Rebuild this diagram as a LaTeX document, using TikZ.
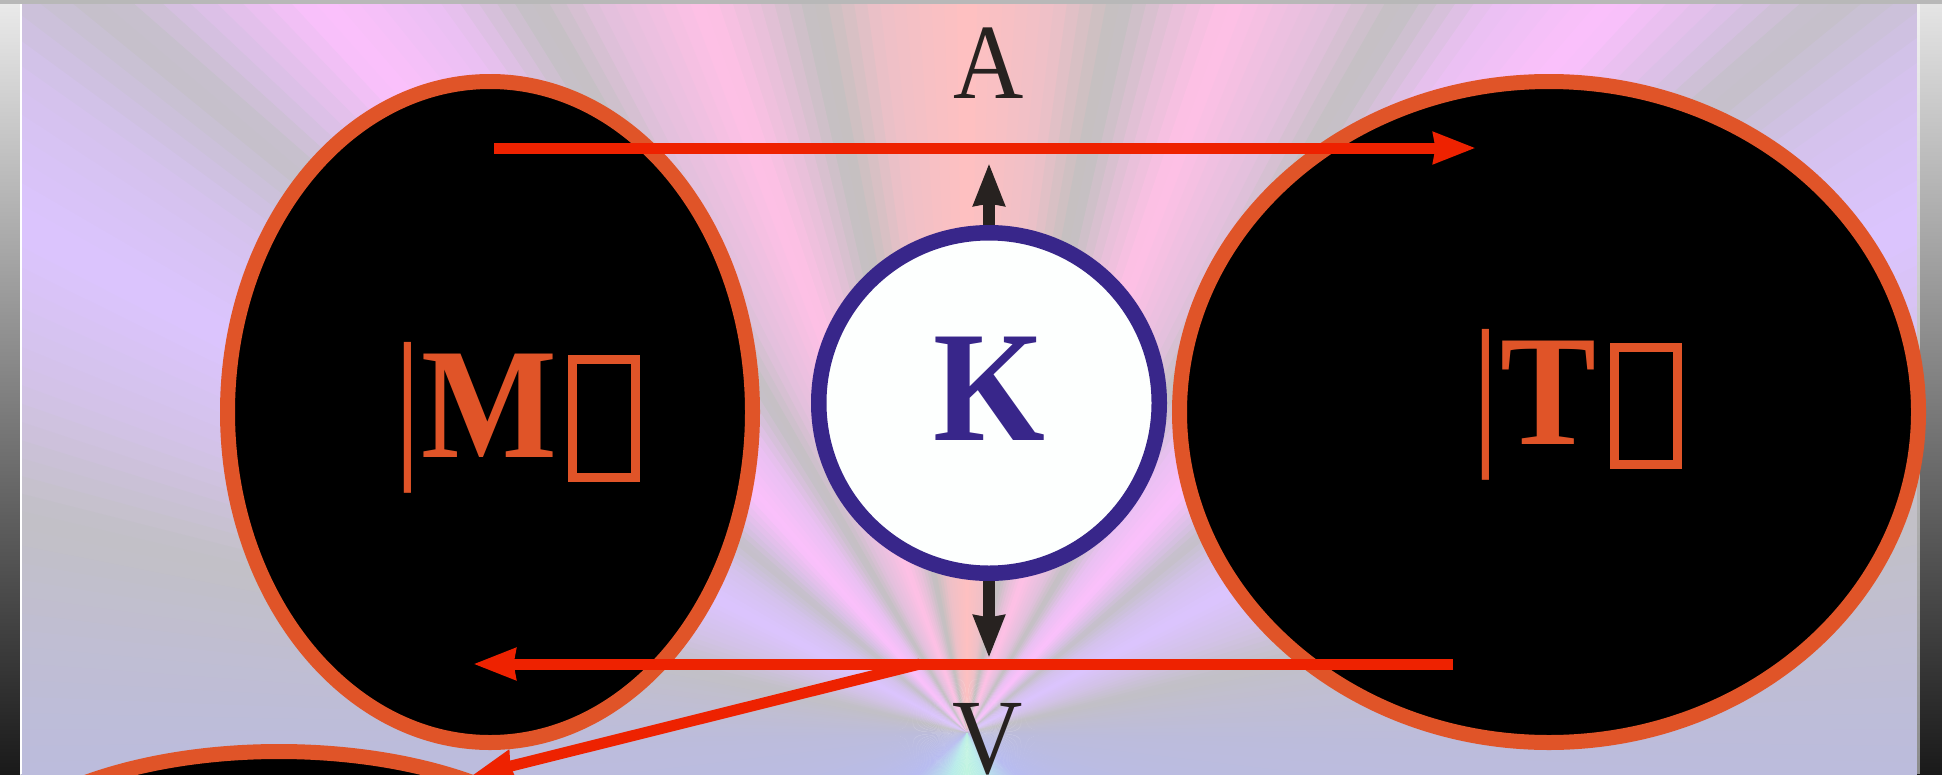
\documentclass[tikz,border=0pt]{standalone}
\usepackage{fontspec}
\setmainfont{Liberation Serif}[FakeStretch=0.91]
\usetikzlibrary{arrows.meta,shapes.geometric}
\definecolor{orng}{HTML}{E05428}
\definecolor{redar}{HTML}{EE2200}
\definecolor{navy}{HTML}{38268A}
\definecolor{darkar}{HTML}{272220}
\definecolor{kfill}{HTML}{FDFFFE}
% ray colour stops
\definecolor{s00}{HTML}{FFC0C0}
\definecolor{s07}{HTML}{EEC0C8}
\definecolor{s12}{HTML}{C2C0C0}
\definecolor{s16}{HTML}{E6C0D8}
\definecolor{s20}{HTML}{FFC0E6}
\definecolor{s27}{HTML}{E2C0DC}
\definecolor{s31}{HTML}{C2C0C2}
\definecolor{s36}{HTML}{EAC0F2}
\definecolor{s42}{HTML}{FCC0FC}
\definecolor{s47}{HTML}{D8C0E4}
\definecolor{s50}{HTML}{C4C0C8}
\definecolor{s55}{HTML}{D4C2EC}
\definecolor{s62}{HTML}{DCC4FF}
\definecolor{s70}{HTML}{D2C2E6}
\definecolor{s77}{HTML}{C2C0C6}
\definecolor{s84}{HTML}{C0BED2}
\definecolor{s92}{HTML}{BCBCDC}
\definecolor{s130}{HTML}{B8BCF0}
\definecolor{s160}{HTML}{B8ECEA}
\definecolor{s180}{HTML}{C0F4E0}
\newcommand\rayseg[4]{%
  \pgfmathtruncatemacro\rsn{max(1,round(#2-#1))}%
  \foreach \k in {1,...,\rsn}{%
    \pgfmathsetmacro\ra{#1+(#2-#1)*(\k-1)/\rsn-0.2}%
    \pgfmathsetmacro\rb{#1+(#2-#1)*\k/\rsn+0.2}%
    \pgfmathtruncatemacro\rp{100*(\k-0.5)/\rsn}%
    \colorlet{rc}{#4!\rp!#3}%
    \fill[rc,shift={(F)}] (0,0) -- ({1500*sin(\ra)},{-1500*cos(\ra)}) -- ({1500*sin(\rb)},{-1500*cos(\rb)}) -- cycle;
    \fill[rc,shift={(F)}] (0,0) -- ({-1500*sin(\ra)},{-1500*cos(\ra)}) -- ({-1500*sin(\rb)},{-1500*cos(\rb)}) -- cycle;
  }}
\newcommand\tallbar{\scalebox{1}[1.05]{|}}
\tikzset{
  ellM/.style={ellipse, draw=orng, line width=15pt, fill=black, inner sep=0pt, outer sep=0pt},
  redarrow/.style={draw=redar, line width=11pt, -{Stealth[length=42pt,width=30pt,inset=1.5pt]}},
  darkarrow/.style={draw=darkar, line width=12pt, -{Stealth[length=42pt,width=30pt,inset=1.5pt]}},
  lbl/.style={text=orng, font=\fontsize{158}{158}\selectfont, inner sep=0pt, anchor=base west},
  tofu/.style={draw=orng, line width=9pt, inner sep=0pt, outer sep=0pt},
  bigletter/.style={text=darkar, font=\fontsize{107}{107}\selectfont, inner sep=0pt, anchor=base},
}
\begin{document}
\begin{tikzpicture}[x=1pt,y=-1pt]
\useasboundingbox (0,0) rectangle (1942,774);
% background rays
\begin{scope}
  \clip (21,3) rectangle (1917,774);
  \coordinate (F) at (967,733);
  \rayseg{0}{7}{s00}{s07}
  \rayseg{7}{12}{s07}{s12}
  \rayseg{12}{16}{s12}{s16}
  \rayseg{16}{20}{s16}{s20}
  \rayseg{20}{27}{s20}{s27}
  \rayseg{27}{31}{s27}{s31}
  \rayseg{31}{36}{s31}{s36}
  \rayseg{36}{42}{s36}{s42}
  \rayseg{42}{47}{s42}{s47}
  \rayseg{47}{50}{s47}{s50}
  \rayseg{50}{55}{s50}{s55}
  \rayseg{55}{62}{s55}{s62}
  \rayseg{62}{70}{s62}{s70}
  \rayseg{70}{77}{s70}{s77}
  \rayseg{77}{84}{s77}{s84}
  \rayseg{84}{92}{s84}{s92}
  \rayseg{92}{130}{s92}{s130}
  \rayseg{130}{160}{s130}{s160}
  \rayseg{160}{180}{s160}{s180}
\end{scope}
% frame strips
\shade[top color=black!8, middle color=black!72, bottom color=black!90] (0,0) rectangle (20,774);
\fill[white] (20,0) rectangle (21.5,774);
\shade[top color=black!10, middle color=black!70, bottom color=black!90] (1917,0) rectangle (1942,774);
\fill[white, opacity=0.5] (1917,0) rectangle (1920,774);
\fill[black!28] (0,0) rectangle (1942,3.5);
% ellipses
\node[ellM, minimum width=525pt, minimum height=661pt] (M) at (490,412) {};
\node[ellM, minimum width=739pt, minimum height=661pt] (T) at (1549,412) {};
\node[ellM, minimum width=625pt, minimum height=289pt] (B) at (279,896) {};
% central circle
\node[circle, draw=navy, line width=15.5pt, fill=kfill, minimum size=340.5pt, inner sep=0pt, outer sep=0pt] (K) at (989,403) {};
\node[text=navy, font=\fontsize{158}{158}\selectfont\bfseries, inner sep=0pt, anchor=base] (Ktxt) at (989,440) {K};
% labels
\node[lbl] (Mlbl) at (393,457) {\tallbar\textbf{M}};
\node[tofu, minimum width=63pt, minimum height=118pt] (Mbox) at (604,418.5) {};
\node[lbl] (Tlbl) at (1471,444) {\tallbar\textbf{T}};
\node[tofu, minimum width=63pt, minimum height=117pt] (Tbox) at (1646,406) {};
\node[bigletter] (Atxt) at (989,98) {A};
\node[bigletter] (Vtxt) at (988,773) {V};
% connectors
\coordinate (r1s) at (494,148);
\coordinate (r1e) at (1476,148);
\coordinate (r2s) at (1453,664);
\coordinate (r2e) at (473,664);
\coordinate (r3s) at (920,664);
\coordinate (r3e) at (471,776);
\coordinate (kup) at (989,163);
\coordinate (kdn) at (989,658);
\draw[darkarrow, shorten <=7.75pt] (K.north) -- (kup);
\draw[darkarrow, shorten <=7.75pt] (K.south) -- (kdn);
\draw[redarrow] (r1s) -- (r1e);
\draw[redarrow] (r2s) -- (r2e);
\draw[redarrow] (r3s) -- (r3e);
\end{tikzpicture}
\end{document}
